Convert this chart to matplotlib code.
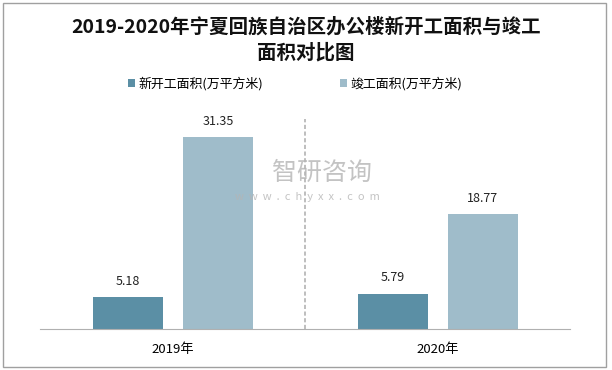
import matplotlib.pyplot as plt
from matplotlib.patches import Rectangle
import numpy as np

plt.rcParams['font.family'] = ['Noto Sans CJK SC', 'DejaVu Sans']

years = ['2019年', '2020年']
new_start = [5.18, 5.79]
completed = [31.35, 18.77]
series_names = ['新开工面积(万平方米)', '竣工面积(万平方米)']

c_dark = '#5b8fa5'
c_light = '#9fbcca'

fig = plt.figure(figsize=(6.12, 3.70), dpi=100)
ax = fig.add_axes([0.066, 0.111, 0.866, 0.578])

x = np.arange(len(years))
w = 0.264
b1 = ax.bar(x - 0.17, new_start, w, color=c_dark, label=series_names[0])
b2 = ax.bar(x + 0.17, completed, w, color=c_light, label=series_names[1])

for bars, vals in [(b1, new_start), (b2, completed)]:
    for r, v in zip(bars, vals):
        ax.annotate(f'{v:.2f}', (r.get_x() + r.get_width() / 2, v),
                    xytext=(0, 7), textcoords='offset points',
                    ha='center', va='bottom', fontsize=9, color='#222222')

ax.axvline(0.5, ymax=0.98, color='#b3b3b3', linestyle=(0, (2.5, 1.5)), linewidth=1.2)

ax.set_xlim(-0.5, 1.5)
ax.set_ylim(0, 35)
ax.set_xticks(x)
ax.set_xticklabels(years, fontsize=9.5)
ax.tick_params(axis='x', length=0, pad=10)
ax.set_yticks([])
for s in ['top', 'left', 'right']:
    ax.spines[s].set_visible(False)
ax.spines['bottom'].set_color('#b0b0b0')

fig.legend(handles=[b1, b2], loc='center', bbox_to_anchor=(0.482, 0.773), ncol=2,
           frameon=False, fontsize=9.3, handlelength=0.55, handleheight=0.55,
           handletextpad=0.25, columnspacing=5.9)

fig.text(0.5, 0.927, '2019-2020年宁夏回族自治区办公楼新开工面积与竣工', ha='center', va='center',
         fontsize=14, fontweight='bold', color='#111111')
fig.text(0.5, 0.857, '面积对比图', ha='center', va='center',
         fontsize=14, fontweight='bold', color='#111111')

# watermark
fig.text(0.526, 0.533, '智研咨询', ha='center', va='center', fontsize=18, color='#b5b5b5', alpha=0.8)
fig.text(0.502, 0.467, 'w  w  w  .  c  h  y  x  x  .  c  o  m', ha='center', va='center',
         fontsize=8, color='#b5b5b5', alpha=0.8)

fig.patches.append(Rectangle((0.005, 0.008), 0.985, 0.984, transform=fig.transFigure,
                             fill=False, edgecolor='#a0a0a0', linewidth=1))

fig.savefig('out.png', dpi=100)
